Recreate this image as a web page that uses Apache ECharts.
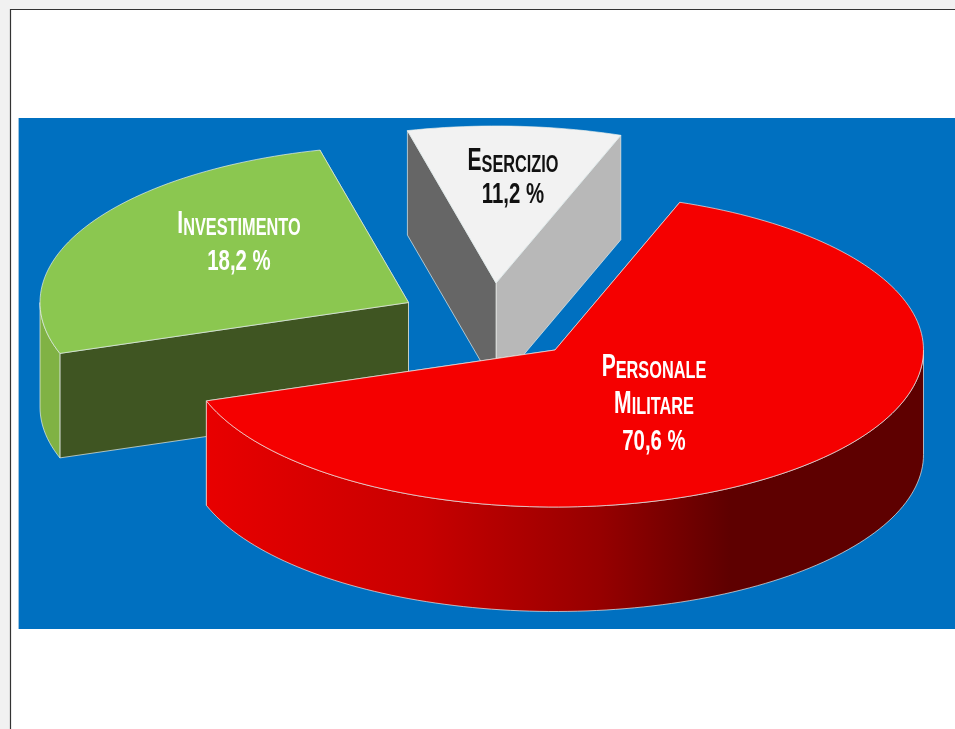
<!DOCTYPE html>
<html>
<head>
<meta charset="utf-8">
<style>html,body{margin:0;padding:0;background:#f1f1f1}#c{width:955px;height:729px}</style>
<script src="https://cdn.jsdelivr.net/npm/echarts@6/dist/echarts.min.js"></script>
</head>
<body>
<div id="c"></div>
<script>
// Data
const categories = ['Personale Militare', 'Investimento', 'Esercizio'];
const shares = [70.6, 18.2, 11.2];

// Layout and style (perspective projection of the exploded 3D pie)
const startAngle = 70.2;                 // where the first slice begins, degrees, going clockwise
const perspectiveWarp = [0.91, 1.45, 0.836]; // how the view stretches each slice's sweep
const sliceCentres = [[555, 350], [408.5, 302.5], [496, 283]];
const radiusX = 368.5, radiusY = 157, depth = 104.5;
const labelCentres = [[654, 401.5], [239, 240], [513, 177]];
const labelLineHeights = [36.5, 37, 33];
const labelColours = ['#ffffff', '#ffffff', '#111111'];
const topColours = ['#f50000', '#8bc750', '#f2f2f2'];
const startWallColours = ['#f50000', '#3f5522', '#666666'];
const endWallColours = ['#f50000', '#3f5522', '#b8b8b8'];
const rimColours = [null, '#80b244', '#b8b8b8'];
const redRimStops = [[0, '#e80000'], [0.3, '#c80000'], [0.55, '#960000'], [0.73, '#5e0000'], [1, '#5e0000']];
const textSqueeze = 0.68;

function rowAngles() {
  const out = [];
  let a = startAngle;
  shares.forEach((s, i) => {
    const sweep = s * 3.6 * perspectiveWarp[i];
    out.push([a, a - sweep]);
    a -= sweep;
  });
  return out;
}
function rim(c, deg) {
  const r = deg * Math.PI / 180;
  return [c[0] + radiusX * Math.cos(r), c[1] - radiusY * Math.sin(r)];
}
function arcPoints(c, from, to) {
  const n = Math.max(2, Math.ceil(Math.abs(to - from) / 1.5));
  const pts = [];
  for (let i = 0; i <= n; i++) pts.push(rim(c, from + (to - from) * i / n));
  return pts;
}
function down(p) { return [p[0], p[1] + depth]; }

function labelText(name, val) {
  const words = name.split(' ').map(w =>
    '{big|' + w[0].toUpperCase() + '}{small|' + w.slice(1).toUpperCase() + '}');
  return words.join('\n') + '\n{num|' + val.toFixed(1).replace('.', ',') + ' %}';
}

const edgeStroke = 'rgba(235,240,235,0.85)';
function renderItem(params, api) {
  const i = params.dataIndex;
  const val = api.value(1);
  const ang = rowAngles()[i];
  const c = sliceCentres[i];
  const start = ang[0], end = ang[1];
  const children = [];
  const poly = (points, fill) => children.push({
    type: 'polygon', shape: { points },
    style: { fill, stroke: edgeStroke, lineWidth: 0.8 }
  });
  // radial inner walls: back wall first, then the one nearer the viewer
  const pS = rim(c, start), pE = rim(c, end);
  poly([c, pE, down(pE), down(c)], endWallColours[i]);
  poly([c, pS, down(pS), down(c)], startWallColours[i]);
  // outer rim: the part of the arc on the viewer's side
  const low = Math.max(end, -180), high = Math.min(start, 0);
  if (high > low) {
    const arc = arcPoints(c, low, high);
    const side = arc.concat(arc.slice().reverse().map(down));
    const xs = arc.map(p => p[0]);
    const fill = rimColours[i] || new echarts.graphic.LinearGradient(
      Math.min(...xs), 0, Math.max(...xs), 0,
      redRimStops.map(s => ({ offset: s[0], color: s[1] })), true);
    poly(side, fill);
  }
  // top face
  poly([c].concat(arcPoints(c, start, end)), topColours[i]);
  // label
  const col = labelColours[i], fam = 'Liberation Sans', lh = labelLineHeights[i];
  const tok = size => ({ fontFamily: fam, fontWeight: 'bold', fontSize: size, lineHeight: lh, fill: col, verticalAlign: 'bottom' });
  children.push({
    type: 'text',
    x: labelCentres[i][0], y: labelCentres[i][1],
    scaleX: textSqueeze,
    style: {
      text: labelText(categories[i], val),
      align: 'center', verticalAlign: 'middle',
      fill: col,
      rich: { big: tok(31), small: tok(24), num: tok(30) }
    }
  });
  return { type: 'group', children };
}

const chart = echarts.init(document.getElementById('c'), null, { renderer: 'canvas' });
const drawOrder = [1, 2, 0]; // far slices first
chart.setOption({
  animation: false,
  backgroundColor: '#f1f1f1',
  graphic: [
    { type: 'rect', z: 0, shape: { x: 10.5, y: 9.5, width: 960, height: 740 },
      style: { fill: '#ffffff', stroke: '#333333', lineWidth: 1.2 } },
    { type: 'rect', z: 1, shape: { x: 18, y: 118, width: 945, height: 511 },
      style: { fill: '#0070c0' } },
    { type: 'rect', z: 2, shape: { x: 18, y: 118, width: 1, height: 511 },
      style: { fill: '#9cc4e2' } }
  ],
  series: drawOrder.map(i => ({
    type: 'custom',
    coordinateSystem: 'none',
    name: categories[i],
    z: 5,
    silent: true,
    renderItem: (p, api) => renderItem({ dataIndex: i }, api),
    data: [[categories[i], shares[i]]]
  }))
});
</script>
</body>
</html>
